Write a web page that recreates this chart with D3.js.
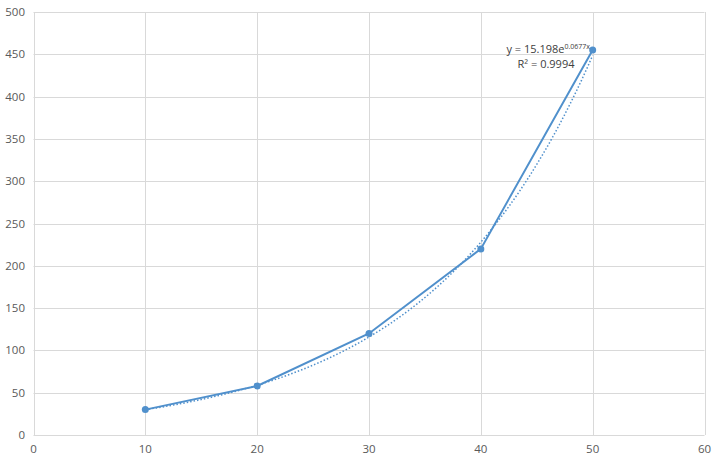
<!DOCTYPE html>
<html>
<head>
<meta charset="utf-8">
<script src="https://cdn.jsdelivr.net/npm/d3@7"></script>
<style>
  body { margin: 0; background: #fff; }
  text { font-family: "Open Sans", "Liberation Sans", sans-serif; }
</style>
</head>
<body>
<svg id="chart"></svg>
<script>
var xValues = [10, 20, 30, 40, 50];
var yValues = [30, 58, 120, 220, 455];
var xTicks = [0, 10, 20, 30, 40, 50, 60];
var yTicks = [0, 50, 100, 150, 200, 250, 300, 350, 400, 450, 500];
// trendline from the label in the chart: y = a * e^(b x)
var trendA = 15.198, trendB = 0.0677;
var trendX = d3.range(10, 50.01, 0.5);

var width = 720,
    height = 463;

var svg = d3.select('#chart')
    .attr('width', width)
    .attr('height', height);

var x = d3.scaleLinear().domain([0, 60]).range([33.5, 704.5]);
var y = d3.scaleLinear().domain([0, 500]).range([435, 12]);

var blue = '#5090cc';

// gridlines
svg.append('g').selectAll('line.h')
  .data(yTicks)
  .enter().append('line')
  .attr('x1', x(0)).attr('x2', x(60))
  .attr('y1', function(d) { return Math.round(y(d)) + 0.5; })
  .attr('y2', function(d) { return Math.round(y(d)) + 0.5; })
  .attr('stroke', '#d9d9d9').attr('stroke-width', 1);

svg.append('g').selectAll('line.v')
  .data(xTicks)
  .enter().append('line')
  .attr('x1', function(d) { return Math.round(x(d)) + 0.5; })
  .attr('x2', function(d) { return Math.round(x(d)) + 0.5; })
  .attr('y1', y(0)).attr('y2', y(500))
  .attr('stroke', '#d9d9d9').attr('stroke-width', 1);

// tick labels
svg.append('g').selectAll('text')
  .data(yTicks)
  .enter().append('text')
  .attr('x', 25)
  .attr('y', function(d) { return y(d) + 4; })
  .attr('text-anchor', 'end')
  .attr('font-size', 11.5)
  .attr('fill', '#595959')
  .text(function(d) { return d; });

svg.append('g').selectAll('text')
  .data(xTicks)
  .enter().append('text')
  .attr('x', function(d) { return x(d); })
  .attr('y', 453)
  .attr('text-anchor', 'middle')
  .attr('font-size', 11.5)
  .attr('fill', '#595959')
  .text(function(d) { return d; });

// trendline (dotted)
var trendLine = d3.line()
  .x(function(d) { return x(d); })
  .y(function(d) { return y(trendA * Math.exp(trendB * d)); });

svg.append('path')
  .datum(trendX)
  .attr('d', trendLine)
  .attr('fill', 'none')
  .attr('stroke', blue)
  .attr('stroke-width', 1.5)
  .attr('stroke-dasharray', '1.5,2');

// data line
var pts = xValues.map(function(v, i) { return [v, yValues[i]]; });
var line = d3.line()
  .x(function(d) { return x(d[0]); })
  .y(function(d) { return y(d[1]); });

svg.append('path')
  .datum(pts)
  .attr('d', line)
  .attr('fill', 'none')
  .attr('stroke', blue)
  .attr('stroke-width', 2);

svg.append('g').selectAll('circle')
  .data(pts)
  .enter().append('circle')
  .attr('cx', function(d) { return x(d[0]); })
  .attr('cy', function(d) { return y(d[1]); })
  .attr('r', 3.5)
  .attr('fill', blue);

// equation label
var eq = svg.append('text')
  .attr('x', 590)
  .attr('y', 53)
  .attr('text-anchor', 'end')
  .attr('font-size', 11)
  .attr('fill', '#404040');
eq.append('tspan').text('y = 15.198e');
eq.append('tspan').attr('font-size', 7).attr('dy', -4).text('0.0677x');

svg.append('text')
  .attr('x', 546)
  .attr('y', 68)
  .attr('text-anchor', 'middle')
  .attr('font-size', 11)
  .attr('fill', '#404040')
  .text('R² = 0.9994');
</script>
</body>
</html>
